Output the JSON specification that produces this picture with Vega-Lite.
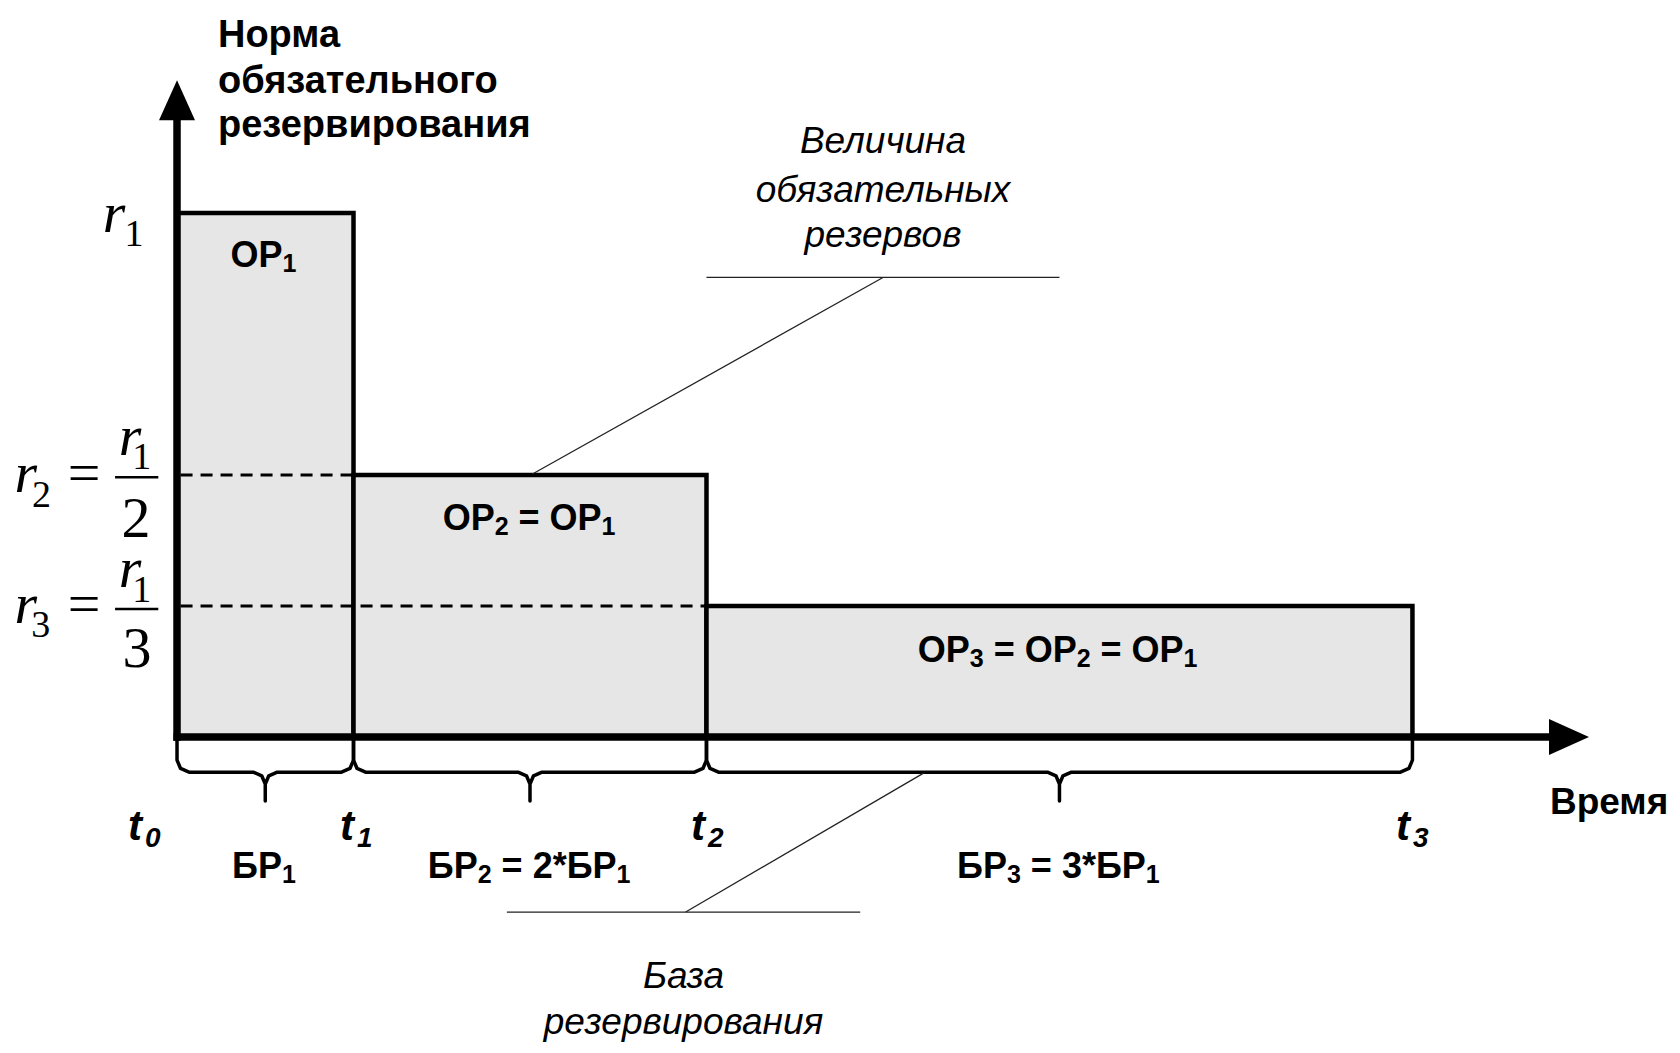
{
  "$schema": "https://vega.github.io/schema/vega-lite/v6.json",
  "width": 1680,
  "height": 1053,
  "autosize": {"type": "fit", "contains": "padding"},
  "padding": 0,
  "background": "white",
  "config": {"view": {"stroke": null}},
  "datasets": {
    "bars": [
      {"t": 0, "t2": 1, "r": 0, "r2": 1},
      {"t": 1, "t2": 3, "r": 0, "r2": 0.5},
      {"t": 3, "t2": 7, "r": 0, "r2": 0.25}
    ],
    "dashed": [
      {"t": 0.02, "t2": 1, "r": 0.5, "r2": 0.5},
      {"t": 0.02, "t2": 3, "r": 0.25, "r2": 0.25}
    ],
    "axes": [
      {"t": 0, "t2": 0, "r": -0.007, "r2": 1.19},
      {"t": -0.02, "t2": 7.8, "r": 0, "r2": 0}
    ],
    "arrowUp": [{"t": 0, "r": 1.2153}],
    "arrowRight": [{"t": 7.887, "r": 0}],
    "braces": [
      {"b": 1, "o": 1, "t": 0, "r": -0.006}, {"b": 1, "o": 2, "t": 0, "r": -0.044}, {"b": 1, "o": 3, "t": 0.02, "r": -0.06}, {"b": 1, "o": 4, "t": 0.068, "r": -0.067}, {"b": 1, "o": 5, "t": 0.432, "r": -0.067}, {"b": 1, "o": 6, "t": 0.48, "r": -0.074}, {"b": 1, "o": 7, "t": 0.5, "r": -0.09}, {"b": 1, "o": 8, "t": 0.5, "r": -0.122}, {"b": 1, "o": 9, "t": 0.5, "r": -0.09}, {"b": 1, "o": 10, "t": 0.52, "r": -0.074}, {"b": 1, "o": 11, "t": 0.568, "r": -0.067}, {"b": 1, "o": 12, "t": 0.932, "r": -0.067}, {"b": 1, "o": 13, "t": 0.98, "r": -0.06}, {"b": 1, "o": 14, "t": 1, "r": -0.044}, {"b": 1, "o": 15, "t": 1, "r": -0.006},
      {"b": 2, "o": 1, "t": 1, "r": -0.006}, {"b": 2, "o": 2, "t": 1, "r": -0.044}, {"b": 2, "o": 3, "t": 1.02, "r": -0.06}, {"b": 2, "o": 4, "t": 1.068, "r": -0.067}, {"b": 2, "o": 5, "t": 1.932, "r": -0.067}, {"b": 2, "o": 6, "t": 1.98, "r": -0.074}, {"b": 2, "o": 7, "t": 2, "r": -0.09}, {"b": 2, "o": 8, "t": 2, "r": -0.122}, {"b": 2, "o": 9, "t": 2, "r": -0.09}, {"b": 2, "o": 10, "t": 2.02, "r": -0.074}, {"b": 2, "o": 11, "t": 2.068, "r": -0.067}, {"b": 2, "o": 12, "t": 2.932, "r": -0.067}, {"b": 2, "o": 13, "t": 2.98, "r": -0.06}, {"b": 2, "o": 14, "t": 3, "r": -0.044}, {"b": 2, "o": 15, "t": 3, "r": -0.006},
      {"b": 3, "o": 1, "t": 3, "r": -0.006}, {"b": 3, "o": 2, "t": 3, "r": -0.044}, {"b": 3, "o": 3, "t": 3.02, "r": -0.06}, {"b": 3, "o": 4, "t": 3.068, "r": -0.067}, {"b": 3, "o": 5, "t": 4.932, "r": -0.067}, {"b": 3, "o": 6, "t": 4.98, "r": -0.074}, {"b": 3, "o": 7, "t": 5, "r": -0.09}, {"b": 3, "o": 8, "t": 5, "r": -0.122}, {"b": 3, "o": 9, "t": 5, "r": -0.09}, {"b": 3, "o": 10, "t": 5.02, "r": -0.074}, {"b": 3, "o": 11, "t": 5.068, "r": -0.067}, {"b": 3, "o": 12, "t": 6.932, "r": -0.067}, {"b": 3, "o": 13, "t": 6.98, "r": -0.06}, {"b": 3, "o": 14, "t": 7, "r": -0.044}, {"b": 3, "o": 15, "t": 7, "r": -0.006}
    ],
    "leaders": [
      {"t": 3, "t2": 5, "r": 0.877, "r2": 0.877},
      {"t": 4, "t2": 2.014, "r": 0.877, "r2": 0.502},
      {"t": 1.869, "t2": 3.871, "r": -0.334, "r2": -0.334},
      {"t": 2.882, "t2": 4.23, "r": -0.334, "r2": -0.069}
    ],
    "fracBars": [
      {"t": -0.351, "t2": -0.106, "r": 0.4956, "r2": 0.4956},
      {"t": -0.351, "t2": -0.106, "r": 0.2443, "r2": 0.2443}
    ],
    "title": [
      {"label": "Норма", "t": 0.232, "r": 1.3174},
      {"label": "обязательного", "t": 0.232, "r": 1.2296},
      {"label": "резервирования", "t": 0.232, "r": 1.1445}
    ],
    "vremya": [{"label": "Время", "t": 7.779, "r": -0.147}],
    "boldMain": [
      {"label": "ОР", "t": 0.303, "r": 0.8975},
      {"label": "ОР", "t": 1.5054, "r": 0.395},
      {"label": "= ОР", "t": 1.9354, "r": 0.395},
      {"label": "ОР", "t": 4.1972, "r": 0.1437},
      {"label": "= ОР", "t": 4.6272, "r": 0.1437},
      {"label": "= ОР", "t": 5.2329, "r": 0.1437},
      {"label": "БР", "t": 0.3122, "r": -0.269},
      {"label": "БР", "t": 1.421, "r": -0.269},
      {"label": "= 2*БР", "t": 1.8391, "r": -0.269},
      {"label": "БР", "t": 4.4198, "r": -0.269},
      {"label": "= 3*БР", "t": 4.838, "r": -0.269}
    ],
    "boldSub": [
      {"label": "1", "t": 0.598, "r": 0.888},
      {"label": "2", "t": 1.8, "r": 0.3855},
      {"label": "1", "t": 2.4057, "r": 0.3855},
      {"label": "3", "t": 4.4918, "r": 0.1342},
      {"label": "2", "t": 5.0975, "r": 0.1342},
      {"label": "1", "t": 5.7031, "r": 0.1342},
      {"label": "1", "t": 0.5949, "r": -0.2785},
      {"label": "2", "t": 1.7037, "r": -0.2785},
      {"label": "1", "t": 2.4901, "r": -0.2785},
      {"label": "3", "t": 4.7025, "r": -0.2785},
      {"label": "1", "t": 5.489, "r": -0.2785}
    ],
    "tMain": [
      {"label": "t", "t": -0.2776, "r": -0.1966},
      {"label": "t", "t": 0.9235, "r": -0.1966},
      {"label": "t", "t": 2.912, "r": -0.1966},
      {"label": "t", "t": 6.9065, "r": -0.1966}
    ],
    "tSub": [
      {"label": "0", "t": -0.1813, "r": -0.21},
      {"label": "1", "t": 1.0198, "r": -0.21},
      {"label": "2", "t": 3.0085, "r": -0.21},
      {"label": "3", "t": 7.0028, "r": -0.21}
    ],
    "annot": [
      {"label": "Величина", "t": 4.0, "r": 1.114},
      {"label": "обязательных", "t": 4.0, "r": 1.0216},
      {"label": "резервов", "t": 4.0, "r": 0.9357},
      {"label": "База", "t": 2.87, "r": -0.479},
      {"label": "резервирования", "t": 2.87, "r": -0.567}
    ],
    "mathR": [
      {"label": "r", "t": -0.357, "r": 0.9637},
      {"label": "r", "t": -0.857, "r": 0.468},
      {"label": "r", "t": -0.266, "r": 0.538},
      {"label": "r", "t": -0.857, "r": 0.217},
      {"label": "r", "t": -0.266, "r": 0.2868}
    ],
    "mathBig": [
      {"label": "=", "t": -0.527, "r": 0.468},
      {"label": "=", "t": -0.527, "r": 0.217},
      {"label": "2", "t": -0.232, "r": 0.382},
      {"label": "3", "t": -0.227, "r": 0.1342}
    ],
    "mathSub": [
      {"label": "1", "t": -0.2436, "r": 0.937},
      {"label": "2", "t": -0.768, "r": 0.4395},
      {"label": "1", "t": -0.2, "r": 0.511},
      {"label": "3", "t": -0.772, "r": 0.1914},
      {"label": "1", "t": -0.2, "r": 0.2582}
    ]
  },
  "encoding": {
    "x": {"field": "t", "type": "quantitative", "scale": {"domain": [-1.003, 8.516], "nice": false, "zero": false}, "axis": null},
    "y": {"field": "r", "type": "quantitative", "scale": {"domain": [-0.603, 1.4065], "nice": false, "zero": false}, "axis": null}
  },
  "layer": [
    {
      "data": {"name": "bars"},
      "mark": {"type": "rect", "fill": "#e6e6e6", "stroke": "black", "strokeWidth": 4.5},
      "encoding": {"x2": {"field": "t2"}, "y2": {"field": "r2"}}
    },
    {
      "data": {"name": "dashed"},
      "mark": {"type": "rule", "color": "black", "strokeWidth": 3, "strokeDash": [12, 8]},
      "encoding": {"x2": {"field": "t2"}, "y2": {"field": "r2"}}
    },
    {
      "data": {"name": "braces"},
      "mark": {"type": "line", "color": "black", "strokeWidth": 3.5, "strokeJoin": "round", "strokeCap": "round"},
      "encoding": {"detail": {"field": "b", "type": "nominal"}, "order": {"field": "o", "type": "quantitative"}}
    },
    {
      "data": {"name": "leaders"},
      "mark": {"type": "rule", "color": "#222222", "strokeWidth": 1.3},
      "encoding": {"x2": {"field": "t2"}, "y2": {"field": "r2"}}
    },
    {
      "data": {"name": "axes"},
      "mark": {"type": "rule", "color": "black", "strokeWidth": 7.5, "strokeCap": "butt"},
      "encoding": {"x2": {"field": "t2"}, "y2": {"field": "r2"}}
    },
    {
      "data": {"name": "arrowUp"},
      "mark": {"type": "point", "shape": "M0,-1L0.9,1L-0.9,1Z", "size": 1600, "filled": true, "color": "black", "opacity": 1}
    },
    {
      "data": {"name": "arrowRight"},
      "mark": {"type": "point", "shape": "M1,0L-1,0.9L-1,-0.9Z", "size": 1600, "filled": true, "color": "black", "opacity": 1}
    },
    {
      "data": {"name": "fracBars"},
      "mark": {"type": "rule", "color": "black", "strokeWidth": 2.5},
      "encoding": {"x2": {"field": "t2"}, "y2": {"field": "r2"}}
    },
    {
      "data": {"name": "title"},
      "mark": {"type": "text", "align": "left", "baseline": "alphabetic", "font": "Liberation Sans", "fontWeight": "bold", "fontSize": 38, "color": "black"},
      "encoding": {"text": {"field": "label"}}
    },
    {
      "data": {"name": "vremya"},
      "mark": {"type": "text", "align": "left", "baseline": "alphabetic", "font": "Liberation Sans", "fontWeight": "bold", "fontSize": 37, "color": "black"},
      "encoding": {"text": {"field": "label"}}
    },
    {
      "data": {"name": "boldMain"},
      "mark": {"type": "text", "align": "left", "baseline": "alphabetic", "font": "Liberation Sans", "fontWeight": "bold", "fontSize": 36, "color": "black"},
      "encoding": {"text": {"field": "label"}}
    },
    {
      "data": {"name": "boldSub"},
      "mark": {"type": "text", "align": "left", "baseline": "alphabetic", "font": "Liberation Sans", "fontWeight": "bold", "fontSize": 25, "color": "black"},
      "encoding": {"text": {"field": "label"}}
    },
    {
      "data": {"name": "tMain"},
      "mark": {"type": "text", "align": "left", "baseline": "alphabetic", "font": "Liberation Sans", "fontWeight": "bold", "fontStyle": "italic", "fontSize": 42, "color": "black"},
      "encoding": {"text": {"field": "label"}}
    },
    {
      "data": {"name": "tSub"},
      "mark": {"type": "text", "align": "left", "baseline": "alphabetic", "font": "Liberation Sans", "fontWeight": "bold", "fontStyle": "italic", "fontSize": 28, "color": "black"},
      "encoding": {"text": {"field": "label"}}
    },
    {
      "data": {"name": "annot"},
      "mark": {"type": "text", "align": "center", "baseline": "alphabetic", "font": "Liberation Sans", "fontStyle": "italic", "fontSize": 37, "color": "black"},
      "encoding": {"text": {"field": "label"}}
    },
    {
      "data": {"name": "mathR"},
      "mark": {"type": "text", "align": "center", "baseline": "alphabetic", "font": "Liberation Serif", "fontStyle": "italic", "fontSize": 58, "color": "black"},
      "encoding": {"text": {"field": "label"}}
    },
    {
      "data": {"name": "mathBig"},
      "mark": {"type": "text", "align": "center", "baseline": "alphabetic", "font": "Liberation Serif", "fontSize": 58, "color": "black"},
      "encoding": {"text": {"field": "label"}}
    },
    {
      "data": {"name": "mathSub"},
      "mark": {"type": "text", "align": "center", "baseline": "alphabetic", "font": "Liberation Serif", "fontSize": 38, "color": "black"},
      "encoding": {"text": {"field": "label"}}
    }
  ]
}
